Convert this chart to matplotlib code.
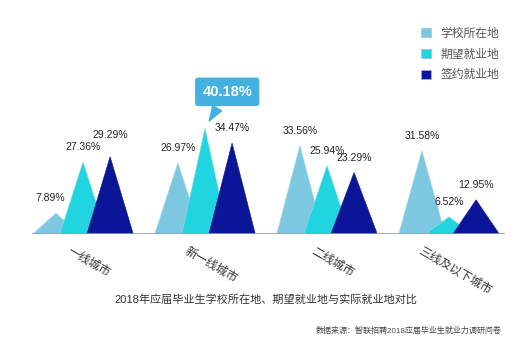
import matplotlib
matplotlib.use("Agg")
import matplotlib.pyplot as plt
from matplotlib.patches import Patch

plt.rcParams['font.family'] = ['Liberation Sans', 'Noto Sans CJK SC', 'DejaVu Sans']

cities = ["一线城市", "新一线城市", "二线城市", "三线及以下城市"]
series = ["学校所在地", "期望就业地", "签约就业地"]
school = [7.89, 26.97, 33.56, 31.58]
expect = [27.36, 40.18, 25.94, 6.52]
signed = [29.29, 34.47, 23.29, 12.95]
colors = ["#7DC7E1", "#20D5DF", "#0B1597"]

title = "2018年应届毕业生学校所在地、期望就业地与实际就业地对比"
source = "数据来源：智联招聘2018应届毕业生就业力调研问卷"

W, H = 530, 362
fig = plt.figure(figsize=(W / 100, H / 100), dpi=100, facecolor='w')
# axes box in pixels: baseline at y=234, x from 32 to 505
ax = fig.add_axes([32 / W, (H - 234) / H, 473 / W, 45 * 2.64 / H])
ax.set_xlim(-0.418, 3.459)
ax.set_ylim(0, 45)
ax.axis('off')
ax.axhline(0, color='#8C9DB3', lw=1.2, zorder=5)

offset = 0.222
half = 0.19
for k, vals in enumerate([school, expect, signed]):
    for i, v in enumerate(vals):
        xc = i + (k - 1) * offset
        ax.fill([xc - half, xc, xc + half], [0, v, 0], color=colors[k],
                ec='#9fd9ea' if k < 2 else colors[k], lw=0.4, zorder=2 + k)
        if k == 1 and v == max(expect):
            ax.annotate(f"{v:.2f}%", xy=(xc, v), xytext=(16, 26),
                        textcoords='offset points', ha='center', va='center',
                        fontsize=10.5, fontweight='bold', color='white',
                        bbox=dict(boxstyle='round,pad=0.45,rounding_size=0.15',
                                  fc='#45B1E0', ec='#45B1E0'),
                        arrowprops=dict(arrowstyle='wedge,tail_width=0.7,shrink_factor=0.5',
                                        fc='#45B1E0', ec='#45B1E0', shrinkB=6),
                        zorder=10)
        else:
            dx = -4 if (k == 0 and i == 0) else 0
            dy = 12 if (k == 2 and i == 0) else 7
            ax.annotate(f"{v:.2f}%", xy=(xc, v), xytext=(dx, dy),
                        textcoords='offset points', ha='center', va='bottom',
                        fontsize=7.5, color='#222222', zorder=10)

for i, c in enumerate(cities):
    ax.annotate(c, xy=(i + 0.05, 0), xytext=(0, -8), textcoords='offset points',
                ha='center', va='top', rotation=-30, fontsize=8.5, color='#333333')

handles = [Patch(fc=colors[k], ec='#b0b8c8', lw=0.5) for k in range(3)]
fig.legend(handles, series, loc='upper left', bbox_to_anchor=(410 / W, 1 - 17 / H),
           frameon=False, fontsize=8.5, handlelength=0.85, handleheight=0.85,
           handletextpad=0.8, labelspacing=0.75, labelcolor='#555555')

fig.text(266 / W, 1 - 299 / H, title, ha='center', va='center', fontsize=8, color='#333333')
fig.text(502 / W, 1 - 331 / H, source, ha='right', va='center', fontsize=5.8, color='#444444')

fig.savefig("out.png", dpi=100, facecolor='w')
